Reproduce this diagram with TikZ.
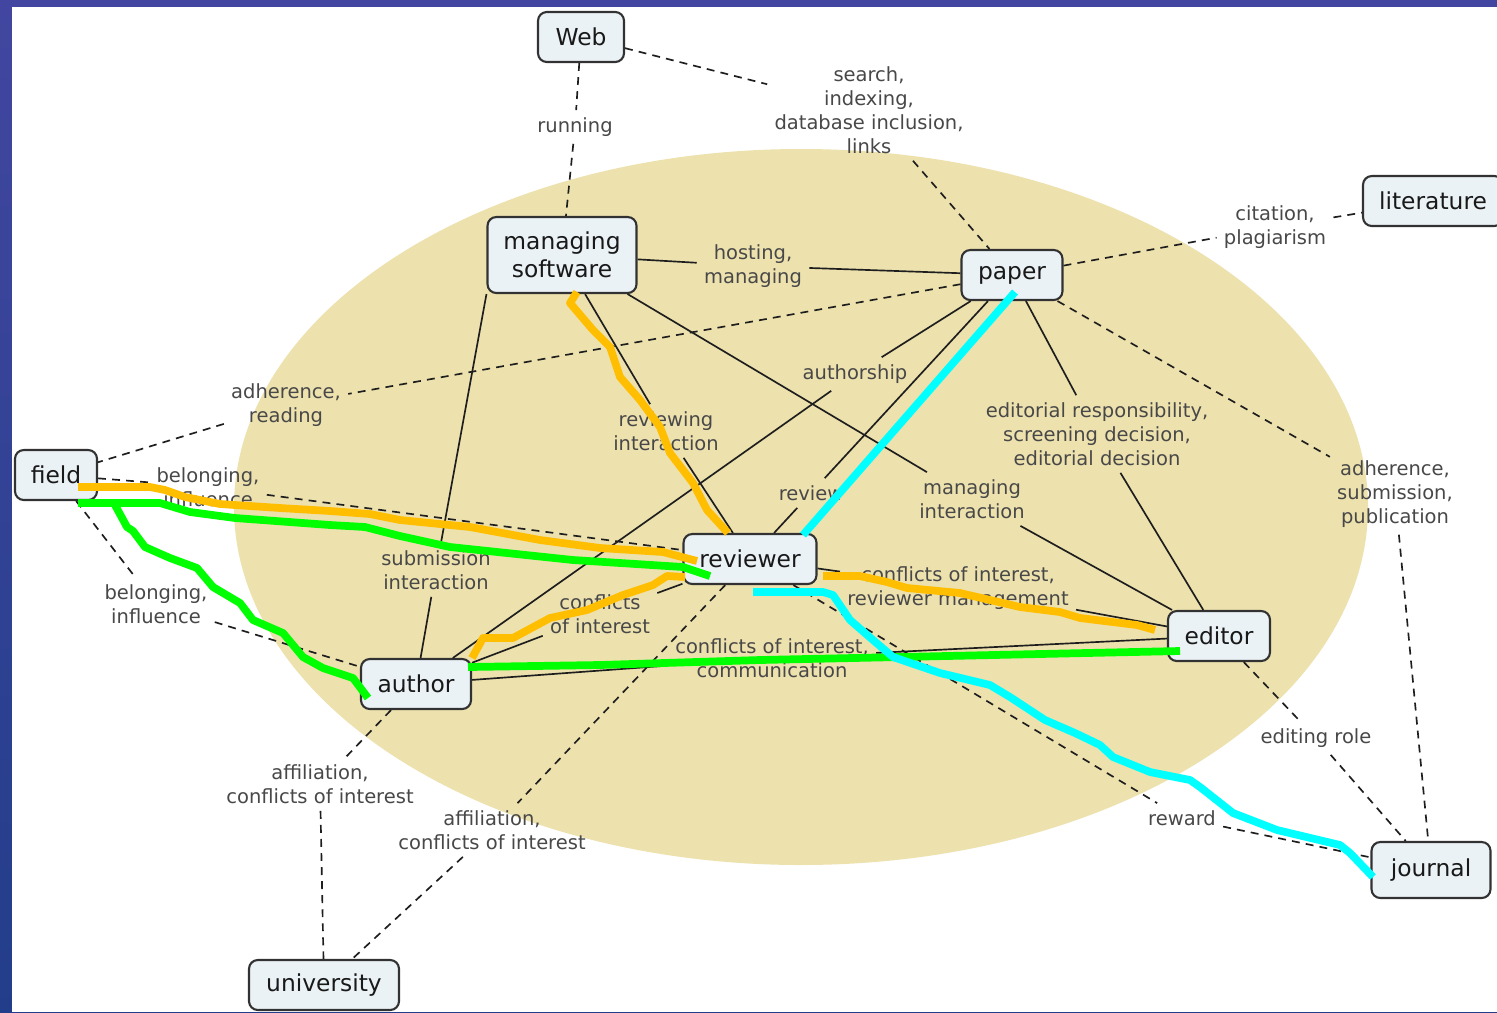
\documentclass[tikz,border=0pt]{standalone}
\usepackage{fontspec}
\setmainfont{DejaVu Sans}
\definecolor{frametop}{RGB}{66,70,160}
\definecolor{framebot}{RGB}{34,62,138}
\definecolor{ovalfill}{RGB}{237,225,174}
\definecolor{boxfill}{RGB}{235,242,245}
\definecolor{boxline}{RGB}{50,50,50}
\definecolor{boxtext}{RGB}{25,25,25}
\definecolor{lbltext}{RGB}{72,72,72}
\definecolor{linkc}{RGB}{30,30,30}
\definecolor{hlorange}{RGB}{255,190,0}
\definecolor{hlgreen}{RGB}{0,255,0}
\definecolor{hlcyan}{RGB}{0,255,255}
\newcommand{\cptfont}{\fontsize{13.3}{16}\selectfont}
\newcommand{\lblfont}{\fontsize{11.1}{13.6}\selectfont}
\begin{document}
\begin{tikzpicture}[x=0.02cm,y=-0.02cm,
  concept/.style={draw=boxline, line width=1.2pt, fill=boxfill, rounded corners=5pt,
    font=\cptfont, text=boxtext, inner sep=0pt, align=center, minimum height=1cm},
  lbl/.style={font=\lblfont, text=lbltext, align=center, inner sep=4pt},
  link/.style={draw=linkc, line width=0.95pt},
  dlink/.style={link, dash pattern=on 4.5pt off 3.5pt},
  hl/.style={line width=4.4pt, line join=round, line cap=butt}]

% frame and canvas
\useasboundingbox (0,0) rectangle (1497,1012);
\clip (0,0) rectangle (1497,1012);
\shade[top color=frametop, bottom color=framebot] (0,0) rectangle (1497,1012);
\fill[white] (12,7) rectangle (1497,1012);

% central oval
\fill[ovalfill] (801,507) ellipse [x radius=567, y radius=358];

% link phrases
\node[lbl] (lrun)    at (575,127)  {running};
\node[lbl] (lsearch) at (869,110)  {search,\\indexing,\\database inclusion,\\links};
\node[lbl] (lhost)   at (753,266)  {hosting,\\managing};
\node[lbl] (lcite)   at (1275,227) {citation,\\plagiarism};
\node[lbl] (ladhr)   at (286,405)  {adherence,\\reading};
\node[lbl] (lbelr)   at (208,487)  {belonging,\\influence};
\node[lbl] (lbela)   at (156,604)  {belonging,\\influence};
\node[lbl] (lrevint) at (666,431)  {reviewing\\interaction};
\node[lbl] (lauth)   at (855,374)  {authorship};
\node[lbl] (lrev)    at (811,493)  {review};
\node[lbl] (lmanint) at (972,499)  {managing\\interaction};
\node[lbl] (ledit)   at (1097,434) {editorial responsibility,\\screening decision,\\editorial decision};
\node[lbl] (ladhs)   at (1395,494) {adherence,\\submission,\\publication};
\node[lbl] (lsub)    at (436,570)  {submission\\interaction};
\node[lbl] (lcoi)    at (600,614)  {conflicts\\of interest};
\node[lbl] (lcoirm)  at (958,588)  {conflicts of interest,\\reviewer management};
\node[lbl] (lcoic)   at (772,658)  {conflicts of interest,\\communication};
\node[lbl] (lrew)    at (1182,818) {reward};
\node[lbl] (lerole)  at (1316,738) {editing role};
\node[lbl] (laffa)   at (320,784)  {affiliation,\\conflicts of interest};
\node[lbl] (laffr)   at (492,830)  {affiliation,\\conflicts of interest};

% concepts
\node[concept, minimum width=1.72cm] (web)   at (581,37)   {Web};
\node[concept, minimum width=2.98cm, minimum height=1.52cm] (ms) at (562,255) {managing\\software};
\node[concept, minimum width=2.02cm] (paper) at (1012,275)  {paper};
\node[concept, minimum width=2.8cm]  (lit)   at (1433,201)  {literature};
\node[concept, minimum width=1.64cm] (field) at (56,475)    {field};
\node[concept, minimum width=2.66cm] (rev)   at (750,559)   {reviewer};
\node[concept, minimum width=2.04cm] (edit)  at (1219,636)  {editor};
\node[concept, minimum width=2.2cm]  (auth)  at (416,684)   {author};
\node[concept, minimum width=2.38cm, minimum height=1.12cm] (jour) at (1431,870) {journal};
\node[concept, minimum width=3.0cm]  (univ)  at (324,985)   {university};

% dashed links
\draw[dlink] (web) -- (lrun) (lrun) -- (ms);
\draw[dlink] (web) -- (lsearch) (lsearch) -- (paper);
\draw[dlink] (paper) -- (lcite) (lcite) -- (lit);
\draw[dlink] (paper) -- (ladhr) (ladhr) -- (field);
\draw[dlink] (field) -- (lbelr) (lbelr) -- (rev);
\draw[dlink] (field) -- (lbela) (lbela) -- (auth);
\draw[dlink] (paper) -- (ladhs) (ladhs) -- (jour);
\draw[dlink] (rev) -- (lrew) (lrew) -- (jour);
\draw[dlink] (edit) -- (lerole) (lerole) -- (jour);
\draw[dlink] (auth) -- (laffa) (laffa) -- (univ);
\draw[dlink] (rev) -- (laffr) (laffr) -- (univ);

% solid links
\draw[link] (ms) -- (lhost) (lhost) -- (paper);
\draw[link] (ms) -- (lrevint) (lrevint) -- (rev);
\draw[link] (ms) -- (lmanint) (lmanint) -- (edit);
\draw[link] (ms.south west) -- (lsub) (lsub) -- (auth);
\draw[link] (paper) -- (lauth) (lauth) -- (auth);
\draw[link] (paper) -- (lrev) (lrev) -- (rev);
\draw[link] (paper) -- (ledit) (ledit) -- (edit);
\draw[link] (rev) -- (lcoirm) (lcoirm) -- (edit);
\draw[link] (rev) -- (lcoi) (lcoi) -- (auth);
\draw[link] (auth) -- (lcoic) (lcoic) -- (edit);

% highlighted routes
\draw[hl, hlorange] (78,487) -- (150,487) -- (165,490) -- (185,497) -- (220,504) -- (280,508)
  -- (330,511) -- (370,514) -- (400,520) -- (470,527) -- (540,540) -- (600,548) -- (663,552) -- (697,561);
\draw[hl, hlorange] (577,292) -- (570,303) -- (593,330) -- (610,347) -- (620,377) -- (640,400)
  -- (660,427) -- (670,453) -- (693,483) -- (707,510) -- (728,533);
\draw[hl, hlorange] (472,658) -- (483,638) -- (513,638) -- (550,618) -- (587,610) -- (623,595)
  -- (653,585) -- (667,576) -- (685,577);
\draw[hl, hlorange] (823,576) -- (860,576) -- (887,582) -- (907,588) -- (960,593) -- (1020,607)
  -- (1060,612) -- (1080,618) -- (1137,625) -- (1155,630);

\draw[hl, hlgreen] (78,503) -- (160,503) -- (190,512) -- (235,518) -- (330,525) -- (365,527)
  -- (400,536) -- (450,547) -- (573,560) -- (683,567) -- (710,576);
\draw[hl, hlgreen] (115,505) -- (127,527) -- (133,531) -- (145,547) -- (170,558) -- (197,568)
  -- (213,587) -- (240,603) -- (253,620) -- (283,633) -- (303,657) -- (323,668) -- (353,678) -- (368,698);
\draw[hl, hlgreen] (468,667) -- (600,665) -- (760,660) -- (900,657) -- (1180,651);

\draw[hl, hlcyan] (1015,292) -- (803,535);
\draw[hl, hlcyan] (753,592) -- (823,592) -- (833,595) -- (850,620) -- (873,640) -- (893,657)
  -- (940,673) -- (990,685) -- (1010,697) -- (1045,720) -- (1075,733) -- (1100,745) -- (1113,757)
  -- (1150,772) -- (1190,780) -- (1200,787) -- (1233,813) -- (1277,830) -- (1340,845) -- (1350,853) -- (1373,877);
\end{tikzpicture}
\end{document}
